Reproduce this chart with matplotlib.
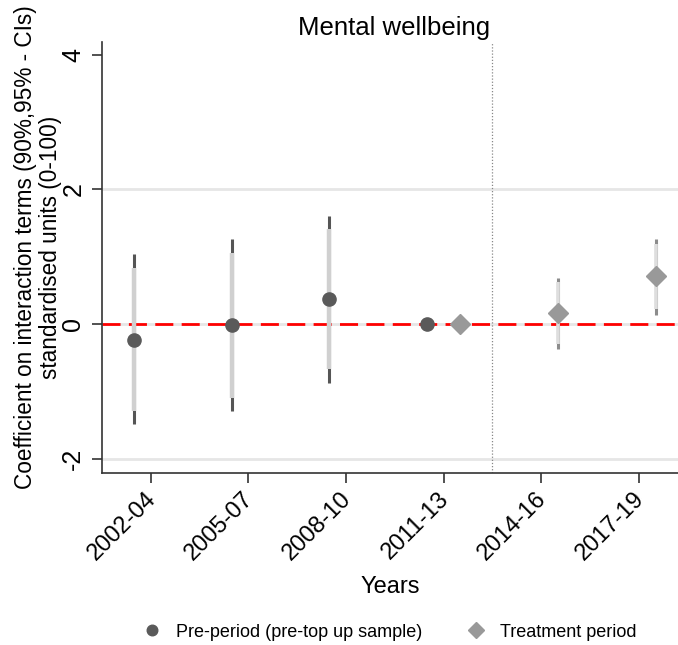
import matplotlib
matplotlib.use('Agg')
import matplotlib.pyplot as plt
import matplotlib.transforms as mtransforms
import numpy as np

plt.rcParams['font.family'] = ['Liberation Sans', 'DejaVu Sans']

years = ['2002-04', '2005-07', '2008-10', '2011-13', '2014-16', '2017-19']

# pre-period (circles)
pre_idx = [0, 1, 2, 3]
pre_coef = [-0.23, -0.01, 0.37, 0.0]
pre_lo95 = [-1.49, -1.29, -0.87, 0.0]
pre_hi95 = [1.04, 1.26, 1.61, 0.0]
pre_lo90 = [-1.29, -1.10, -0.67, 0.0]
pre_hi90 = [0.84, 1.06, 1.41, 0.0]

# treatment period (diamonds)
tr_idx = [3, 4, 5]
tr_coef = [0.0, 0.17, 0.71]
tr_lo95 = [0.0, -0.37, 0.14]
tr_hi95 = [0.0, 0.69, 1.27]
tr_lo90 = [0.0, -0.30, 0.22]
tr_hi90 = [0.0, 0.62, 1.19]

fig = plt.figure(figsize=(6.78, 6.45), dpi=100)
ax = fig.add_axes([0.1504, 0.2667, 0.8496, 0.6682])

for y in [-2, 0, 2]:
    ax.axhline(y, color='#e6e6e6', lw=2, zorder=0)
ax.axhline(0, color='red', lw=2.0, dashes=(6.5, 3), zorder=1)
ax.axvline(3.5, color='#888888', lw=0.9, ls=(0, (1, 1.5)), zorder=1)

off = 0.17
xp = np.array(pre_idx) - off
ax.vlines(xp, pre_lo95, pre_hi95, color='#555555', lw=2.2, zorder=2)
ax.vlines(xp, pre_lo90, pre_hi90, color='#d0d0d0', lw=3.2, zorder=3)
ax.plot(xp, pre_coef, 'o', color='#5a5a5a', ms=9.5, zorder=4,
        label='Pre-period (pre-top up sample)')

xt = np.array(tr_idx) + off
ax.vlines(xt, tr_lo95, tr_hi95, color='#8c8c8c', lw=2.2, zorder=2)
ax.vlines(xt, tr_lo90, tr_hi90, color='#dedede', lw=2.6, zorder=3)
ax.plot(xt, tr_coef, 'D', color='#999999', ms=10.5, zorder=4,
        label='Treatment period')

ax.set_xlim(-0.5, 5.4)
ax.set_ylim(-2.21, 4.19)
ax.set_yticks([-2, 0, 2, 4])
ax.set_yticklabels(['-2', '0', '2', '4'], rotation=90, va='center', fontsize=18)
ax.set_xticks(range(len(years)))
ax.set_xticklabels(years, rotation=45, ha='right', rotation_mode='anchor', fontsize=17)
ax.tick_params(axis='both', length=7, width=1.2, color='#333333', pad=5)
shift = mtransforms.ScaledTranslation(-6/100, 2/100, fig.dpi_scale_trans)
for lbl in ax.get_xticklabels():
    lbl.set_transform(lbl.get_transform() + shift)

for s in ['top', 'right']:
    ax.spines[s].set_visible(False)
for s in ['left', 'bottom']:
    ax.spines[s].set_color('#333333')
    ax.spines[s].set_linewidth(1.2)

ax.set_title('Mental wellbeing', fontsize=18.5, pad=5, x=0.507)
ax.set_xlabel('Years', fontsize=17, labelpad=8)
ax.set_ylabel('Coefficient on interaction terms (90%,95% - CIs)\nstandardised units (0-100)',
              fontsize=16.3, linespacing=1.1)
ax.yaxis.set_label_coords(-0.070, 0.524)

fig.legend(loc='center', bbox_to_anchor=(0.568, 0.02), ncol=2, frameon=False,
           fontsize=13, handletextpad=0.3, columnspacing=2.0, markerscale=0.8)

fig.savefig('out.png', dpi=100)
